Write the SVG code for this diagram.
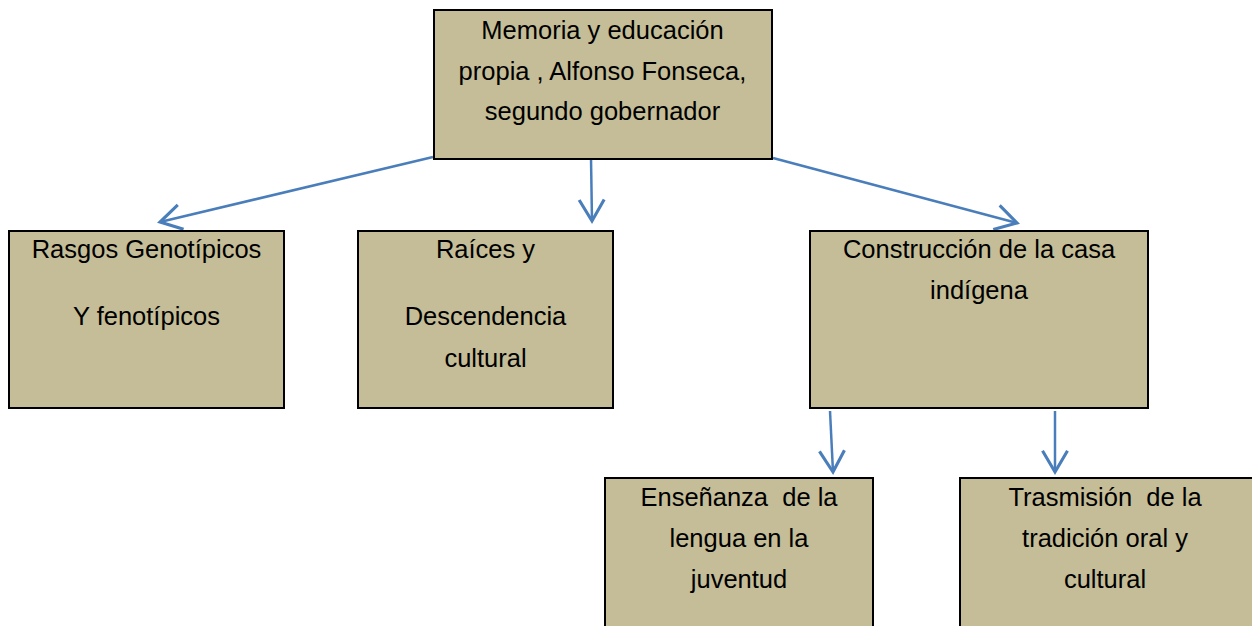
<svg xmlns="http://www.w3.org/2000/svg" width="1252" height="626" viewBox="0 0 1252 626">
  <style>
    .box { fill: #C4BD97; stroke: #000000; stroke-width: 2; }
    .t { font-family: "Liberation Sans", Arial, sans-serif; font-size: 25.5px; fill: #000000; text-anchor: middle; white-space: pre; }
    .c { fill: none; stroke: #4A7EBB; stroke-width: 2.5; }
  </style>
  <defs>
    <marker id="ah" markerUnits="userSpaceOnUse" markerWidth="30" markerHeight="30" viewBox="-20 -12 24 24" refX="0" refY="0" orient="auto">
      <path d="M-17,-10 L0,0 L-17,10" fill="none" stroke="#4A7EBB" stroke-width="2.5"/>
    </marker>
  </defs>
  <rect width="1252" height="626" fill="#FFFFFF"/>

  <g id="connectors">
    <line class="c" x1="433" y1="157" x2="160" y2="222" marker-end="url(#ah)"/>
    <line class="c" x1="591" y1="158" x2="592" y2="221" marker-end="url(#ah)"/>
    <line class="c" x1="773" y1="158" x2="1017" y2="223" marker-end="url(#ah)"/>
    <line class="c" x1="830" y1="411" x2="833" y2="472" marker-end="url(#ah)"/>
    <line class="c" x1="1055" y1="411" x2="1055" y2="472" marker-end="url(#ah)"/>
  </g>

  <g id="node-memoria">
    <rect class="box" x="434" y="10" width="338" height="149"/>
    <text class="t" x="602.5" y="39">Memoria y educación</text>
    <text class="t" x="602.5" y="80">propia , Alfonso Fonseca,</text>
    <text class="t" x="602.5" y="120">segundo gobernador</text>
  </g>

  <g id="node-rasgos">
    <rect class="box" x="9" y="231" width="275" height="177"/>
    <text class="t" x="146.5" y="258">Rasgos Genotípicos</text>
    <text class="t" x="146.5" y="325">Y fenotípicos</text>
  </g>

  <g id="node-raices">
    <rect class="box" x="358" y="231" width="255" height="177"/>
    <text class="t" x="485.5" y="258">Raíces y</text>
    <text class="t" x="485.5" y="325">Descendencia</text>
    <text class="t" x="485.5" y="367">cultural</text>
  </g>

  <g id="node-construccion">
    <rect class="box" x="810" y="231" width="338" height="177"/>
    <text class="t" x="979" y="258">Construcción de la casa</text>
    <text class="t" x="979" y="299">indígena</text>
  </g>

  <g id="node-ensenanza">
    <rect class="box" x="605" y="478" width="268" height="160"/>
    <text class="t" x="739" y="506">Enseñanza  de la</text>
    <text class="t" x="739" y="547">lengua en la</text>
    <text class="t" x="739" y="588">juventud</text>
  </g>

  <g id="node-trasmision">
    <rect class="box" x="960" y="478" width="300" height="160"/>
    <text class="t" x="1105" y="506">Trasmisión  de la</text>
    <text class="t" x="1105" y="547">tradición oral y</text>
    <text class="t" x="1105" y="588">cultural</text>
  </g>
</svg>
